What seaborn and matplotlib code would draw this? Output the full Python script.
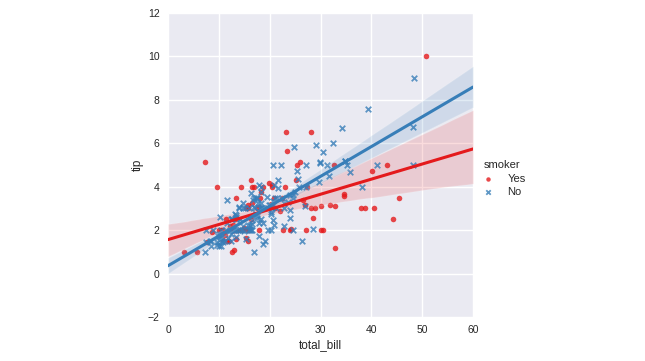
import numpy as np
import pandas as pd
import matplotlib
matplotlib.use("Agg")
import matplotlib.pyplot as plt
import seaborn as sns

# tips data: total_bill, tip, smoker
total_bill = [
    16.99, 10.34, 21.01, 23.68, 24.59, 25.29, 8.77, 26.88, 15.04, 14.78,
    10.27, 35.26, 15.42, 18.43, 14.83, 21.58, 10.33, 16.29, 16.97, 20.65,
    17.92, 20.29, 15.77, 39.42, 19.82, 17.81, 13.37, 12.69, 21.70, 19.65,
    9.55, 18.35, 15.06, 20.69, 17.78, 24.06, 16.31, 16.93, 18.69, 31.27,
    16.04, 17.46, 13.94, 9.68, 30.40, 18.29, 22.23, 32.40, 28.55, 18.04,
    12.54, 10.29, 34.81, 9.94, 25.56, 19.49, 38.01, 26.41, 11.24, 48.27,
    20.29, 13.81, 11.02, 18.29, 17.59, 20.08, 16.45, 3.07, 20.23, 15.01,
    12.02, 17.07, 26.86, 25.28, 14.73, 10.51, 17.92, 27.20, 22.76, 17.29,
    19.44, 16.66, 10.07, 32.68, 15.98, 34.83, 13.03, 18.28, 24.71, 21.16,
    28.97, 22.49, 5.75, 16.32, 22.75, 40.17, 27.28, 12.03, 21.01, 12.46,
    11.35, 15.38, 44.30, 22.42, 20.92, 15.36, 20.49, 25.21, 18.24, 14.31,
    14.00, 7.25, 38.07, 23.95, 25.71, 17.31, 29.93, 10.65, 12.43, 24.08,
    11.69, 13.42, 14.26, 15.95, 12.48, 29.80, 8.52, 14.52, 11.38, 22.82,
    19.08, 20.27, 11.17, 12.26, 18.26, 8.51, 10.33, 14.15, 16.00, 13.16,
    17.47, 34.30, 41.19, 27.05, 16.43, 8.35, 18.64, 11.87, 9.78, 7.51,
    14.07, 13.13, 17.26, 24.55, 19.77, 29.85, 48.17, 25.00, 13.39, 16.49,
    21.50, 12.66, 16.21, 13.81, 17.51, 24.52, 20.76, 31.71, 10.59, 10.63,
    50.81, 15.81, 7.25, 31.85, 16.82, 32.90, 17.89, 14.48, 9.60, 34.63,
    34.65, 23.33, 45.35, 23.17, 40.55, 20.69, 20.90, 30.46, 18.15, 23.10,
    15.69, 19.81, 28.44, 15.48, 16.58, 7.56, 10.34, 43.11, 13.00, 13.51,
    18.71, 12.74, 13.00, 16.40, 20.53, 16.47, 26.59, 38.73, 24.27, 12.76,
    30.06, 25.89, 48.33, 13.27, 28.17, 12.90, 28.15, 11.59, 7.74, 30.14,
    12.16, 13.42, 8.58, 15.98, 13.42, 16.27, 10.09, 20.45, 13.28, 22.12,
    24.01, 15.69, 11.61, 10.77, 15.53, 10.07, 12.60, 32.83, 35.83, 29.03,
    27.18, 22.67, 17.82, 18.78,
]
tip = [
    1.01, 1.66, 3.50, 3.31, 3.61, 4.71, 2.00, 3.12, 1.96, 3.23,
    1.71, 5.00, 1.57, 3.00, 3.02, 3.92, 1.67, 3.71, 3.50, 3.35,
    4.08, 2.75, 2.23, 7.58, 3.18, 2.34, 2.00, 2.00, 4.30, 3.00,
    1.45, 2.50, 3.00, 2.45, 3.27, 3.60, 2.00, 3.07, 2.31, 5.00,
    2.24, 2.54, 3.06, 1.32, 5.60, 3.00, 5.00, 6.00, 2.05, 3.00,
    2.50, 2.60, 5.20, 1.56, 4.34, 3.51, 3.00, 1.50, 1.76, 6.73,
    3.21, 2.00, 1.98, 3.76, 2.64, 3.15, 2.47, 1.00, 2.01, 2.09,
    1.97, 3.00, 3.14, 5.00, 2.20, 1.25, 3.08, 4.00, 3.00, 2.71,
    3.00, 3.40, 1.83, 5.00, 2.03, 5.17, 2.00, 4.00, 5.85, 3.00,
    3.00, 3.50, 1.00, 4.30, 3.25, 4.73, 4.00, 1.50, 3.00, 1.50,
    2.50, 3.00, 2.50, 3.48, 4.08, 1.64, 4.06, 4.29, 3.76, 4.00,
    3.00, 1.00, 4.00, 2.55, 4.00, 3.50, 5.07, 1.50, 1.80, 2.92,
    2.31, 1.68, 2.50, 2.00, 2.52, 4.20, 1.48, 2.00, 2.00, 2.18,
    1.50, 2.83, 1.50, 2.00, 3.25, 1.25, 2.00, 2.00, 2.00, 2.75,
    3.50, 6.70, 5.00, 5.00, 2.30, 1.50, 1.36, 1.63, 1.73, 2.00,
    2.50, 2.00, 2.74, 2.00, 2.00, 5.14, 5.00, 3.75, 2.61, 2.00,
    3.50, 2.50, 2.00, 2.00, 3.00, 3.48, 2.24, 4.50, 1.61, 2.00,
    10.00, 3.16, 5.15, 3.18, 4.00, 3.11, 2.00, 2.00, 4.00, 3.55,
    3.68, 5.65, 3.50, 6.50, 3.00, 5.00, 3.50, 2.00, 3.50, 4.00,
    1.50, 4.19, 2.56, 2.02, 4.00, 1.44, 2.00, 5.00, 2.00, 2.00,
    4.00, 2.01, 2.00, 2.50, 4.00, 3.23, 3.41, 3.00, 2.03, 2.23,
    2.00, 5.16, 9.00, 2.50, 6.50, 1.10, 3.00, 1.50, 1.44, 3.09,
    2.20, 3.48, 1.92, 3.00, 1.58, 2.50, 2.00, 3.00, 2.72, 2.88,
    2.00, 3.00, 3.39, 1.47, 3.00, 1.25, 1.00, 1.17, 4.67, 5.92,
    2.00, 2.00, 1.75, 3.00,
]
# smoker flag per row, ten rows per chunk (Y = Yes, N = No)
smoker_codes = [
    "NNNNNNNNNN", "NNNNNNNNNN", "NNNNNNNNNN", "NNNNNNNNNN", "NNNNNNNNNN",
    "NNNNNNYNYN", "YYYYNNNYNY", "NNYYNNYNNN", "YNNYNNNNNN", "YNYYNYYYYN",
    "YYYYNYYYNY", "NNNNNNNNNN", "NNNNNNNNNN", "NNNNNNNNYN", "NNNNNNNNNN",
    "NNNNNNNNNN", "NNNNYNNNYY", "YYYYYYYYYY", "YYYYYNYYYY", "YYYYYNYYYY",
    "YYYYYYYYYY", "YYNYYYYYYY", "YYYNYYYNNY", "YYNNYNYYNN", "YYNN",
]
smoker = ["Yes" if c == "Y" else "No" for c in "".join(smoker_codes)]

hue_order = ["Yes", "No"]
markers = {"Yes": "o", "No": "x"}
colors = {"Yes": "#e41a1c", "No": "#377eb8"}

df = pd.DataFrame({"total_bill": total_bill, "tip": tip, "smoker": smoker})

sns.set_theme(style="darkgrid", rc={"axes.facecolor": "#EAEAF2"})
plt.rcParams["font.family"] = ["Liberation Sans", "DejaVu Sans"]

fig = plt.figure(figsize=(6.45, 3.61), dpi=100)
ax = fig.add_axes([168 / 645, 44 / 361, 305 / 645, 304 / 361])
ax.set_xlim(0, 60)
ax.set_ylim(-2, 12)

for key in hue_order:
    sub = df[df["smoker"] == key]
    sns.regplot(data=sub, x="total_bill", y="tip", ax=ax, truncate=False,
                marker=markers[key], color=colors[key], seed=0,
                scatter_kws={"s": 16, "linewidths": 1.3 if key == "No" else 0,
                             "alpha": 0.8},
                line_kws={"linewidth": 2.2}, label=key)

ax.set_xlim(0, 60)
ax.set_ylim(-2, 12)
ax.set_xticks(range(0, 61, 10))
ax.set_yticks(range(-2, 13, 2))
ax.tick_params(labelsize=7.5, length=0, pad=6)
ax.set_xlabel("total_bill", fontsize=8.5, labelpad=3)
ax.set_ylabel("tip", fontsize=8.5, labelpad=3)
for s in ax.spines.values():
    s.set_visible(False)

handles, labels = ax.get_legend_handles_labels()
leg = fig.legend(handles[:2], labels[:2], title="smoker", loc="center left",
                 bbox_to_anchor=(474 / 645, 0.505), frameon=False,
                 fontsize=8, title_fontsize=8, markerscale=0.8,
                 handlelength=0.8, handletextpad=1.3, labelspacing=0.3,
                 alignment="left")

fig.savefig("out.png", dpi=100)
